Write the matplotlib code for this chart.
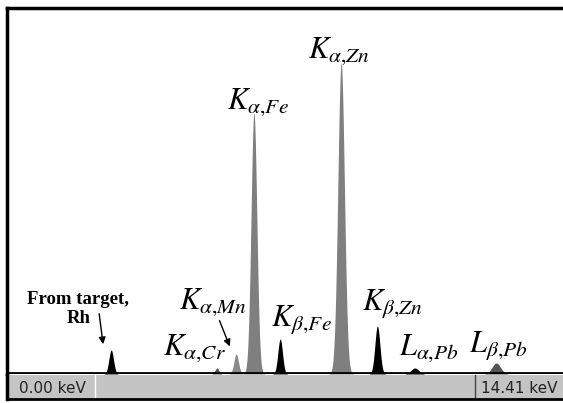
import numpy as np
import matplotlib
matplotlib.use("Agg")
import matplotlib.pyplot as plt

# XRF peaks: line label, energy (keV), height (counts), width sigma (keV), fill colour
lineas = ["Rh", "Ka_Cr", "Ka_Mn", "Ka_Fe", "Kb_Fe", "Ka_Zn", "Kb_Zn", "La_Pb", "Lb_Pb"]
energias = [2.70, 5.44, 5.94, 6.40, 7.08, 8.66, 9.60, 10.57, 12.68]
alturas = [24, 6, 20, 261, 35, 311, 48, 6, 11]
anchos = [0.06, 0.05, 0.06, 0.075, 0.06, 0.085, 0.065, 0.10, 0.11]
colores = ["black", "#555555", "#8a8a8a", "#7f7f7f", "black", "#7f7f7f", "black", "black", "#555555"]

e_min, e_max = 0.00, 14.41

plt.rcParams['mathtext.fontset'] = 'stix'

fig = plt.figure(figsize=(5.63, 4.03), dpi=100)
ax = fig.add_axes([7 / 563, 29 / 403, 556 / 563, 366 / 403])

e = np.linspace(e_min, e_max, 3000)
for E, h, s, c in zip(energias, alturas, anchos, colores):
    y = h * np.exp(-0.5 * ((e - E) / s) ** 2)
    m = y > 0.3
    ax.fill_between(e[m], 0, y[m], color=c, lw=0)

# baseline
ax.plot([e_min, e_max], [0.8, 0.8], color="black", lw=2)

ax.set_xlim(e_min, e_max)
ax.set_ylim(0, 366)
ax.set_xticks([])
ax.set_yticks([])
for lado in ["right", "bottom"]:
    ax.spines[lado].set_visible(False)
ax.spines["left"].set_linewidth(2.5)
ax.spines["top"].set_linewidth(2.5)

# etiquetas de las lineas
fs = 22
ax.text(6.50, 272, r"$K_{\alpha,\!Fe}$", fontsize=fs, ha="center", va="center")
ax.text(8.60, 323, r"$K_{\alpha,\!Zn}$", fontsize=fs, ha="center", va="center")
ax.text(5.35, 72, r"$K_{\alpha,\!Mn}$", fontsize=fs, ha="center", va="center")
ax.text(4.85, 26, r"$K_{\alpha,\!Cr}$", fontsize=fs, ha="center", va="center")
ax.text(7.62, 54, r"$K_{\beta,\!Fe}$", fontsize=fs, ha="center", va="center")
ax.text(10.00, 70, r"$K_{\beta,\!Zn}$", fontsize=fs, ha="center", va="center")
ax.text(10.95, 26, r"$L_{\alpha,\!Pb}$", fontsize=fs, ha="center", va="center")
ax.text(12.75, 28, r"$L_{\beta,\!Pb}$", fontsize=fs, ha="center", va="center")
ax.text(1.85, 65, "From target,\nRh", fontsize=13.5, fontweight="bold",
        family="Liberation Serif", ha="center", va="center", linespacing=1.2)

ax.annotate("", xy=(2.50, 27), xytext=(2.38, 63),
            arrowprops=dict(arrowstyle="-|>", color="black", lw=1, mutation_scale=10))
ax.annotate("", xy=(5.80, 25), xytext=(5.48, 56),
            arrowprops=dict(arrowstyle="-|>", color="black", lw=1, mutation_scale=10))

# barra inferior con el rango de energia
bar = fig.add_axes([7 / 563, 4 / 403, 556 / 563, 24 / 403])
bar.set_facecolor("#c4c4c4")
bar.set_xlim(0, 556)
bar.set_ylim(0, 1)
bar.set_xticks([])
bar.set_yticks([])
for lado in ["top", "right"]:
    bar.spines[lado].set_visible(False)
bar.spines["left"].set_linewidth(2.5)
bar.spines["bottom"].set_linewidth(2)
bar.axvline(88, color="white", lw=1)
bar.axvline(468, color="#444444", lw=1)
bar.text(12, 0.45, f"{e_min:.2f} keV", fontsize=11, color="#222222", va="center")
bar.text(474, 0.45, f"{e_max:.2f} keV", fontsize=11, color="#222222", va="center")

fig.savefig("out.png", dpi=100)
